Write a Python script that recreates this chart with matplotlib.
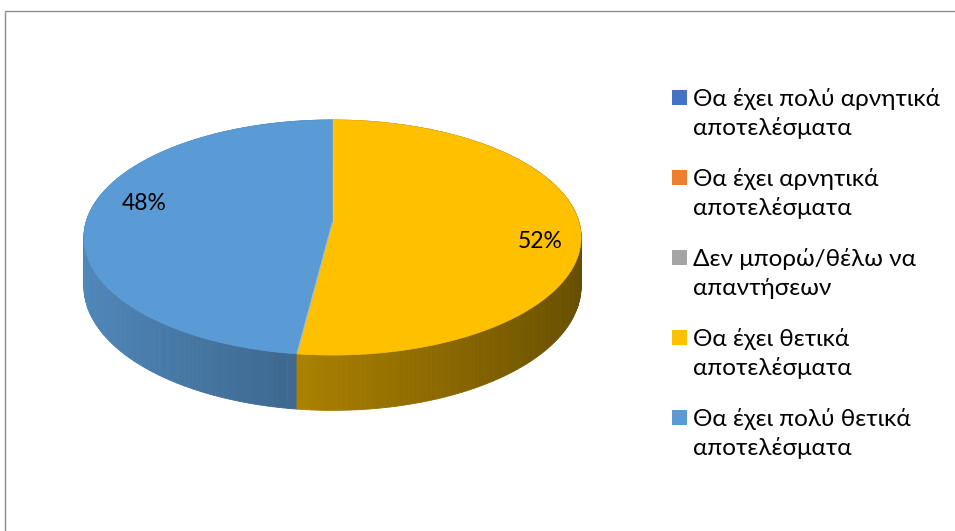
import numpy as np
import matplotlib
matplotlib.use("Agg")
import matplotlib.pyplot as plt
from matplotlib.collections import PolyCollection
from matplotlib.patches import Polygon, Rectangle
from matplotlib.colors import to_rgb

plt.rcParams['font.family'] = ['Lato', 'DejaVu Sans']

# Survey answers and their shares (%)
categories = [
    "Θα έχει πολύ αρνητικά\nαποτελέσματα",
    "Θα έχει αρνητικά\nαποτελέσματα",
    "Δεν μπορώ/θέλω να\nαπαντήσεων",
    "Θα έχει θετικά\nαποτελέσματα",
    "Θα έχει πολύ θετικά\nαποτελέσματα",
]
values = [0, 0, 0, 52, 48]
colors = ["#4472C4", "#ED7D31", "#A5A5A5", "#FFC000", "#5B9BD5"]

W, Hpx = 955, 531
fig = plt.figure(figsize=(W / 100, Hpx / 100), dpi=100)
ax = fig.add_axes([0, 0, 1, 1])
ax.set_xlim(0, W)
ax.set_ylim(Hpx, 0)
ax.axis("off")

# chart area border (top and left edges; the rest runs off the canvas)
ax.plot([4.5, W + 5], [10.5, 10.5], color="#8c8c8c", lw=1.0, zorder=0,
        solid_capstyle="butt")
ax.plot([4.5, 4.5], [10.5, Hpx + 5], color="#8c8c8c", lw=1.0, zorder=0,
        solid_capstyle="butt")

# 3-D pie geometry (pixel space, simple perspective)
CX, CY = 332.5, 222.0
A, B = 246.4, 115.5
K = 0.132
THICK = 48.0


def proj(t_deg, z=0.0, r=1.0):
    t = np.radians(t_deg)
    x = r * np.sin(t)
    y = r * np.cos(t)
    s = 1.0 / (1.0 + K * y)
    return CX + A * x * s, CY - B * y * s + THICK * z * s


def shade(t_deg):
    return 0.64 - 0.245 * np.sin(np.radians(t_deg))


total = float(sum(values))
slices = []
start = 0.0
for v, c in zip(values, colors):
    if v <= 0:
        continue
    sweep = v / total * 360.0
    slices.append((start, start + sweep, c, v))
    start += sweep

# side walls, drawn back to front
quads, qcols, depth = [], [], []
for t0, t1, c, v in slices:
    base = np.array(to_rgb(c))
    n = max(int(np.ceil(t1 - t0)), 2)
    ts = np.linspace(t0, t1, n + 1)
    for ta, tb in zip(ts[:-1], ts[1:]):
        pa0 = proj(ta, 0); pb0 = proj(tb, 0)
        pa1 = proj(ta, 1); pb1 = proj(tb, 1)
        quads.append([pa0, pb0, pb1, pa1])
        tm = 0.5 * (ta + tb)
        qcols.append(np.clip(base * shade(tm), 0, 1))
        depth.append(np.cos(np.radians(tm)))
order = np.argsort(depth)[::-1]
quads = [quads[i] for i in order]
qcols = [qcols[i] for i in order]
ax.add_collection(PolyCollection(quads, facecolors=qcols, edgecolors=qcols,
                                 linewidths=0.6, zorder=2))

# top faces
for t0, t1, c, v in slices:
    ts = np.linspace(t0, t1, 400)
    pts = [proj(0, 0, 0)] + [proj(t, 0) for t in ts]
    ax.add_patch(Polygon(pts, closed=True, facecolor=c, edgecolor=c,
                         lw=0.5, zorder=3))

# light separators between slices on the top face
for t0, t1, c, v in slices:
    p0 = proj(0, 0, 0)
    p1 = proj(t0, 0)
    ax.plot([p0[0], p1[0]], [p0[1], p1[1]], color="#b8d0ea", lw=0.7,
            alpha=0.7, zorder=4, solid_capstyle="butt")

# percentage labels
label_r = {52: 0.84, 48: 0.795}
for t0, t1, c, v in slices:
    tm = 0.5 * (t0 + t1) + 8.0
    lx, ly = proj(tm, 0, label_r.get(v, 0.8))
    ax.text(lx, ly, f"{v}%", ha="center", va="center", fontsize=16.5,
            color="black", zorder=5)

# legend
LX_BOX, LX_TXT = 672, 693
Y0, STEP, LINE = 106, 80, 29
for i, (lab, c) in enumerate(zip(categories, colors)):
    yb = Y0 + i * STEP
    ax.add_patch(Rectangle((LX_BOX, yb - 16), 15, 15, facecolor=c,
                           edgecolor="none", zorder=5))
    for j, line in enumerate(lab.split("\n")):
        ax.text(LX_TXT, yb + j * LINE, line, ha="left", va="baseline",
                fontsize=17.5, color="black", zorder=5)

fig.savefig("out.png", dpi=100)
